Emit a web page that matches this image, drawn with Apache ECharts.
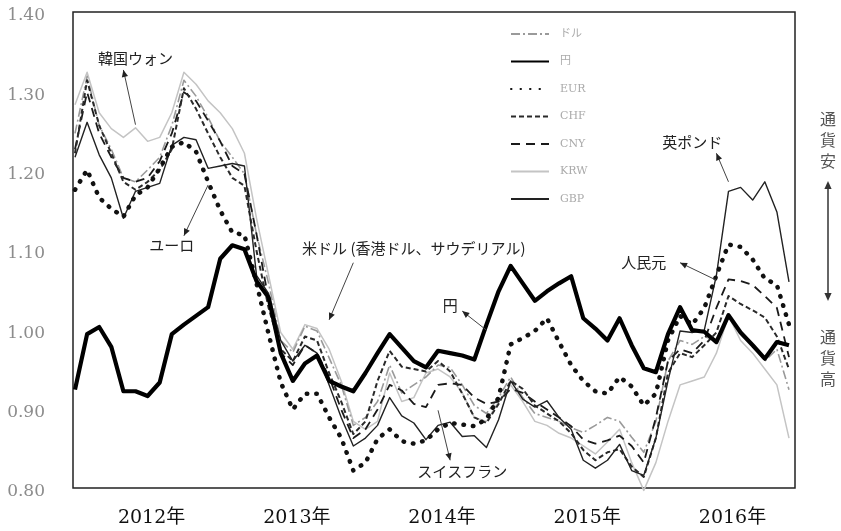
<!DOCTYPE html>
<html><head><meta charset="utf-8">
<script src="https://cdn.jsdelivr.net/npm/echarts/dist/echarts.min.js"></script>
<style>html,body{margin:0;padding:0;background:#fff}#c{width:841px;height:531px}</style>
</head><body><div id="c"></div>
<script>
const years = ['2012','2013','2014','2015','2016'];
const months = [];
years.forEach(y => { for (let m = 1; m <= 12; m++) months.push(y + '-' + String(m).padStart(2, '0')); });

const seriesNames = ['ドル', '円', 'EUR', 'CHF', 'CNY', 'KRW', 'GBP'];

const usd = [
1.252,1.324,1.262,1.232,1.196,1.191,1.206,1.222,1.262,1.319,1.299,1.272,
1.242,1.222,1.201,1.125,1.063,0.991,0.976,1.009,1.003,0.969,0.935,0.884,
0.894,0.914,0.960,0.925,0.935,0.945,0.960,0.957,0.935,0.909,0.899,0.919,
0.945,0.919,0.899,0.894,0.889,0.881,0.875,0.884,0.894,0.889,0.869,0.850,
0.889,0.965,0.991,0.986,0.996,0.991,1.022,1.001,0.986,0.965,0.980,0.929];
const jpy = [
0.929,0.999,1.008,0.983,0.927,0.927,0.921,0.938,0.999,1.011,1.022,1.033,
1.094,1.111,1.106,1.066,1.045,0.975,0.940,0.962,0.972,0.940,0.933,0.927,
0.950,0.975,0.999,0.982,0.965,0.957,0.978,0.975,0.972,0.967,1.011,1.053,
1.085,1.063,1.041,1.053,1.063,1.072,1.019,1.006,0.991,1.019,0.985,0.956,
0.951,0.999,1.033,1.004,1.002,0.989,1.023,1.001,0.985,0.968,0.989,0.985];
const eur = [
1.181,1.206,1.171,1.157,1.147,1.174,1.184,1.208,1.235,1.241,1.229,1.191,
1.155,1.127,1.124,1.063,0.999,0.938,0.904,0.924,0.924,0.894,0.868,0.827,
0.837,0.867,0.879,0.864,0.861,0.865,0.879,0.887,0.885,0.883,0.892,0.919,
0.986,0.994,1.003,1.019,0.989,0.960,0.940,0.927,0.924,0.945,0.933,0.909,
0.924,0.991,1.022,1.011,1.032,1.073,1.112,1.109,1.093,1.069,1.061,1.011];
const chf = [
1.227,1.319,1.262,1.227,1.191,1.181,1.191,1.206,1.232,1.309,1.283,1.252,
1.222,1.196,1.186,1.104,1.032,0.980,0.965,0.996,0.991,0.950,0.914,0.873,
0.889,0.940,0.978,0.958,0.955,0.952,0.965,0.952,0.924,0.894,0.887,0.911,
0.940,0.930,0.909,0.899,0.889,0.874,0.853,0.840,0.850,0.854,0.832,0.819,
0.868,0.950,0.975,0.970,0.985,1.001,1.047,1.037,1.029,1.020,0.996,0.955];
const cny = [
1.232,1.304,1.252,1.222,1.196,1.191,1.196,1.217,1.252,1.304,1.293,1.268,
1.242,1.211,1.201,1.125,1.042,0.975,0.960,0.985,0.975,0.945,0.904,0.868,
0.879,0.904,0.935,0.928,0.911,0.907,0.935,0.937,0.935,0.919,0.911,0.914,
0.930,0.925,0.914,0.904,0.894,0.883,0.866,0.861,0.865,0.871,0.858,0.837,
0.894,0.965,0.980,0.975,0.991,1.032,1.068,1.066,1.061,1.047,1.032,0.970];
const krw = [
1.288,1.329,1.278,1.258,1.247,1.259,1.242,1.247,1.278,1.329,1.314,1.293,
1.278,1.258,1.227,1.145,1.073,1.001,0.980,1.011,1.006,0.980,0.940,0.889,
0.879,0.889,0.950,0.914,0.919,0.950,0.955,0.945,0.925,0.894,0.889,0.914,
0.935,0.914,0.889,0.884,0.874,0.868,0.858,0.848,0.863,0.879,0.837,0.802,
0.837,0.889,0.935,0.940,0.945,0.975,1.022,0.991,0.975,0.955,0.935,0.868];
const gbp = [
1.222,1.266,1.225,1.196,1.145,1.179,1.184,1.189,1.237,1.247,1.244,1.208,
1.211,1.214,1.211,1.073,1.050,0.991,0.965,0.985,0.975,0.935,0.894,0.858,
0.868,0.884,0.919,0.896,0.887,0.866,0.884,0.888,0.870,0.871,0.856,0.891,
0.940,0.917,0.907,0.915,0.894,0.879,0.840,0.830,0.840,0.860,0.827,0.821,
0.868,0.940,1.003,1.001,1.004,1.073,1.179,1.184,1.168,1.191,1.153,1.065];

// annotations in data space: [month index, value]
const notes = [
  {text:'韓国ウォン', at:[5.3,1.347], from:[4.71,1.263], to:[4.30,1.332]},
  {text:'ユーロ', at:[8.43,1.111], from:[10.9,1.187], to:[9.0,1.123]},
  {text:'米ドル (香港ドル、サウデリアル)', at:[28.2,1.107], from:[23.1,1.089], to:[20.66,1.017]},
  {text:'円', at:[30.66,1.035], from:[33.6,1.004], to:[31.8,1.028]},
  {text:'英ポンド', at:[51.3,1.241], from:[54.3,1.191], to:[52.9,1.227]},
  {text:'人民元', at:[46.9,1.089], from:[53.3,1.067], to:[49.8,1.089]},
  {text:'スイスフラン', at:[32.1,0.826], from:[29.9,0.903], to:[31.3,0.840]}
];

const chart = echarts.init(document.getElementById('c'), null, {renderer:'canvas'});
const serif = '"DejaVu Serif","Liberation Serif","Noto Sans CJK JP",serif';
const jp = '"Noto Sans CJK JP",sans-serif';

function ln(name, data, color, width, type, z, cap) {
  return {name, type:'line', data, symbol:'none', showSymbol:false, z,
    lineStyle:{color, width, type, cap: cap || 'butt', join:'round'},
    itemStyle:{color}, emphasis:{disabled:true}, animation:false};
}

chart.setOption({
  animation:false,
  backgroundColor:'#fff',
  grid:{left:75, right:52, top:16, bottom:39, show:false},
  legend:{
    orient:'vertical', left:505, top:22,
    data:seriesNames,
    itemWidth:38, itemHeight:14, itemGap:13.5,
    itemStyle:{opacity:0},
    textStyle:{color:'#aaa', fontSize:11, fontFamily:serif, lineHeight:14, padding:[0,0,0,6]},
    selectedMode:false
  },
  xAxis:{
    type:'category', data:months, boundaryGap:false,
    axisLine:{show:false}, axisTick:{show:false}, splitLine:{show:false},
    axisLabel:{
      interval:(i)=> i % 12 === 6,
      formatter:(v)=> v.slice(0,4) + '年',
      fontSize:19, color:'#111', fontFamily:serif, margin:17, padding:[0,0,0,8]
    }
  },
  yAxis:{
    type:'value', min:0.8, max:1.4, interval:0.1,
    axisLine:{show:false}, axisTick:{show:false}, splitLine:{show:false},
    axisLabel:{formatter:(v)=>v.toFixed(2), fontSize:17, color:'#8c8c8c', fontFamily:serif, margin:30}
  },
  series:[
    ln('KRW', krw, '#c4c4c4', 1.5, 'solid', 2),
    ln('ドル', usd, '#9a9a9a', 1.6, [9,3,2,3], 3),
    ln('CNY', cny, '#1a1a1a', 1.8, [9,6], 4),
    ln('CHF', chf, '#2a2a2a', 2, [5,3], 5),
    ln('GBP', gbp, '#222', 1.4, 'solid', 6),
    ln('EUR', eur, '#111', 4.5, [0.5,9], 7, 'round'),
    ln('円', jpy, '#000', 4.2, 'solid', 8)
  ]
});

function P(x, v) { return chart.convertToPixel({gridIndex:0}, [x, v]); }

const g = [];
// frame
const tl = P(0, 1.405), br = P(59, 0.805);
g.push({type:'rect', shape:{x:tl[0]-2, y:tl[1], width:br[0]-tl[0]+8, height:br[1]-tl[1]},
  style:{fill:'none', stroke:'#222', lineWidth:1.5}, z:1});

function arrowHead(a, b, size, color) {
  const dx = b[0]-a[0], dy = b[1]-a[1], L = Math.hypot(dx,dy) || 1;
  const ux = dx/L, uy = dy/L, px = -uy, py = ux;
  return {type:'polygon', shape:{points:[
    [b[0], b[1]],
    [b[0]-ux*size+px*size*0.45, b[1]-uy*size+py*size*0.45],
    [b[0]-ux*size-px*size*0.45, b[1]-uy*size-py*size*0.45]
  ]}, style:{fill:color}, z:20};
}

notes.forEach(n => {
  const c = P(n.at[0], n.at[1]);
  const a = P(n.from[0], n.from[1]);
  const b = P(n.to[0], n.to[1]);
  g.push({type:'text', x:c[0], y:c[1], z:20,
    style:{text:n.text, fill:'#222', font:'15px ' + jp, align:'center', verticalAlign:'middle'}});
  g.push({type:'line', shape:{x1:a[0], y1:a[1], x2:b[0], y2:b[1]}, style:{stroke:'#444', lineWidth:1}, z:20});
  g.push(arrowHead(a, b, 7, '#222'));
});

// right side: currency weak / strong indicator
g.push({type:'text', x:828, y:108, z:20,
  style:{text:'通\n貨\n安', fill:'#555', font:'16px ' + jp, align:'center', verticalAlign:'top', lineHeight:21}});
g.push({type:'text', x:828, y:326, z:20,
  style:{text:'通\n貨\n高', fill:'#555', font:'16px ' + jp, align:'center', verticalAlign:'top', lineHeight:21}});
g.push({type:'line', shape:{x1:828, y1:184, x2:828, y2:298}, style:{stroke:'#333', lineWidth:1.5}, z:20});
g.push(arrowHead([828,240],[828,181], 8, '#333'));
g.push(arrowHead([828,240],[828,301], 8, '#333'));

chart.setOption({graphic:g});
</script>
</body></html>
